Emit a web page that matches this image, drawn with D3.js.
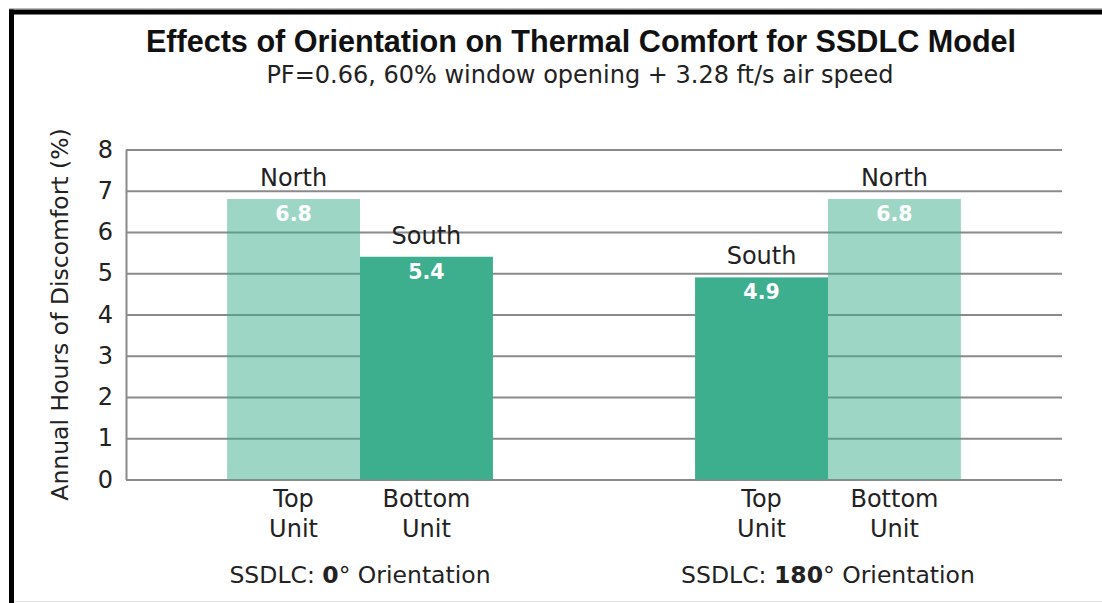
<!DOCTYPE html>
<html>
<head>
<meta charset="utf-8">
<script src="https://cdn.jsdelivr.net/npm/d3@7"></script>
<style>
  body { margin: 0; background: #fff; }
  svg { display: block; }
</style>
</head>
<body>
<svg id="chart" width="1102" height="603"></svg>
<script>
// Annual hours of discomfort (%) per unit, for each building orientation
const orientations = ["0", "180"];
const units = ["Top", "Bottom"];
const facing = [["North", "South"], ["South", "North"]];
const discomfort = [[6.8, 5.4], [4.9, 6.8]];
const yTicks = [0, 1, 2, 3, 4, 5, 6, 7, 8];

const titleText = "Effects of Orientation on Thermal Comfort for SSDLC Model";
const subtitleText = "PF=0.66, 60% window opening + 3.28 ft/s air speed";
const yLabel = "Annual Hours of Discomfort (%)";

const rows = orientations.flatMap((o, i) =>
  units.map((u, j) => ({ orientation: o, unit: u, facing: facing[i][j], value: discomfort[i][j] }))
);

const W = 1102, H = 603;
const plot = { left: 126, right: 1062, top: 149.5, bottom: 479.5 };
const bodyFont = "'DejaVu Sans', sans-serif";
const teal = "#3dae8e";

const svg = d3.select("#chart");

// frame
svg.append("rect").attr("x", 0).attr("y", 0).attr("width", W).attr("height", H).attr("fill", "#fff");
svg.append("line").attr("x1", 9).attr("x2", W).attr("y1", 8.5).attr("y2", 8.5)
  .attr("stroke", "#bdbdbd").attr("stroke-width", 1);
svg.append("rect").attr("x", 9).attr("y", 9.5).attr("width", W - 9).attr("height", 5).attr("fill", "#000");
svg.append("rect").attr("x", 9).attr("y", 9.5).attr("width", 5).attr("height", H - 9.5).attr("fill", "#000");
svg.append("line").attr("x1", 14).attr("x2", W).attr("y1", 601.5).attr("y2", 601.5)
  .attr("stroke", "#e2e2e2").attr("stroke-width", 1);

// titles
svg.append("text").attr("x", 581).attr("y", 52).attr("text-anchor", "middle")
  .style("font-family", "'Liberation Sans', Arial, sans-serif").style("font-weight", "bold")
  .style("font-size", "30.6px").attr("fill", "#111").text(titleText);
svg.append("text").attr("x", 580).attr("y", 83).attr("text-anchor", "middle")
  .style("font-family", bodyFont).style("font-size", "24px").attr("fill", "#222").text(subtitleText);

// scales
const x0 = d3.scaleBand().domain(orientations).range([plot.left, plot.right])
  .paddingInner(0.432).paddingOuter(0.216);
const x1 = d3.scaleBand().domain(units).range([0, x0.bandwidth()]);
const y = d3.scaleLinear().domain([0, 8]).range([plot.bottom, plot.top]);

// gridlines + y axis
const yAxis = svg.append("g").attr("transform", `translate(${plot.left},0)`)
  .call(d3.axisLeft(y).tickValues(yTicks).tickSize(-(plot.right - plot.left)).tickPadding(13).tickSizeOuter(0));
yAxis.select(".domain").attr("stroke", "#8a8a8a").attr("stroke-width", 2);
yAxis.selectAll(".tick line").attr("stroke", "#8a8a8a").attr("stroke-width", 2);
yAxis.selectAll(".tick text").style("font-family", bodyFont).style("font-size", "24px").attr("fill", "#222");

svg.append("text")
  .attr("transform", `translate(68,${(plot.top + plot.bottom) / 2}) rotate(-90)`)
  .attr("text-anchor", "middle")
  .style("font-family", bodyFont).style("font-size", "23.5px").attr("fill", "#222")
  .text(yLabel);

// bars
const groups = svg.append("g").selectAll("g").data(orientations).join("g")
  .attr("transform", d => `translate(${x0(d)},0)`);

groups.selectAll("rect").data(o => rows.filter(r => r.orientation === o)).join("rect")
  .attr("x", d => x1(d.unit))
  .attr("y", d => y(d.value))
  .attr("width", x1.bandwidth())
  .attr("height", d => y(0) - y(d.value))
  .attr("fill", teal)
  .attr("fill-opacity", d => d.facing === "North" ? 0.5 : 1);

// value labels inside the bars
groups.selectAll("text.value").data(o => rows.filter(r => r.orientation === o)).join("text")
  .attr("class", "value")
  .attr("x", d => x1(d.unit) + x1.bandwidth() / 2)
  .attr("y", d => y(d.value) + 22)
  .attr("text-anchor", "middle")
  .style("font-family", bodyFont).style("font-weight", "bold").style("font-size", "20.5px")
  .attr("fill", "#fff")
  .text(d => d.value.toFixed(1));

// facing labels above the bars
groups.selectAll("text.facing").data(o => rows.filter(r => r.orientation === o)).join("text")
  .attr("class", "facing")
  .attr("x", d => x1(d.unit) + x1.bandwidth() / 2)
  .attr("y", d => y(d.value) - 13)
  .attr("text-anchor", "middle")
  .style("font-family", bodyFont).style("font-size", "24px").attr("fill", "#222")
  .text(d => d.facing);

// unit labels under each bar (two lines)
groups.each(function () {
  const g = d3.select(this).append("g").attr("transform", `translate(0,${plot.bottom})`)
    .call(d3.axisBottom(x1).tickSize(0).tickSizeOuter(0));
  g.select(".domain").remove();
  g.selectAll(".tick text").each(function (u) {
    const t = d3.select(this).text(null).attr("y", 0).attr("dy", null)
      .style("font-family", bodyFont).style("font-size", "24px").attr("fill", "#222");
    t.append("tspan").attr("x", 0).attr("y", 27.5).text(u);
    t.append("tspan").attr("x", 0).attr("y", 57.5).text("Unit");
  });
});

// orientation labels
groups.append("text")
  .attr("x", x0.bandwidth() / 2)
  .attr("y", 583)
  .attr("text-anchor", "middle")
  .style("font-family", bodyFont).style("font-size", "23.5px").attr("fill", "#222")
  .call(t => {
    t.append("tspan").text("SSDLC: ");
    t.append("tspan").style("font-weight", "bold").text(d => d);
    t.append("tspan").text("° Orientation");
  });
</script>
</body>
</html>
